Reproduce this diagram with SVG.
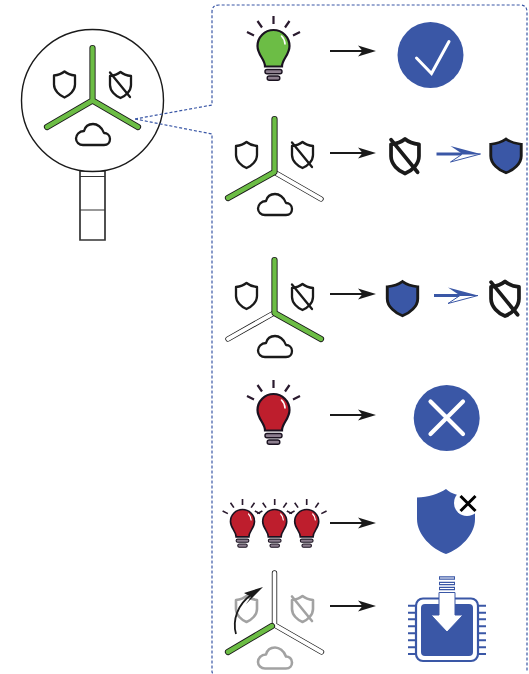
<svg xmlns="http://www.w3.org/2000/svg" width="529" height="674" viewBox="0 0 529 674">
<style>
.k{fill:none;stroke:#1a1a1a;stroke-linejoin:round}
.sh{stroke-width:2.300}
.g{opacity:.4}
.ao{stroke:#1a1a1a;stroke-width:6.200;stroke-linecap:round;stroke-linejoin:round;fill:none}
.ag{stroke:#6cbd45;stroke-width:4.400;stroke-linecap:round;stroke-linejoin:round;fill:none}
.aw{stroke:#fff;stroke-width:3.800;stroke-linecap:round;stroke-linejoin:round;fill:none}
.ab{stroke:#1a1a1a;stroke-width:5.400;stroke-linecap:round;stroke-linejoin:round;fill:none}
.conn{stroke:#1a1a1a;stroke-width:1.800;fill:none}
.dash{stroke:#3a57a6;stroke-width:1.200;stroke-dasharray:3 2;fill:none}
.bl{fill:#3a57a6}
.ray{stroke:#2a1a2e;stroke-width:2.200;fill:none}
</style>
<defs>
<path id="shield" d="M0,0C3,2.500 7,3.600 10.500,4V13C10.500,19 5,24 0,26C-5,24 -10.500,19 -10.500,13V4C-7,3.600 -3,2.500 0,0Z"/>
<g id="shieldx"><path d="M0,0C3,2.500 7,3.600 10.500,4V13C10.500,19 5,24 0,26C-5,24 -10.500,19 -10.500,13V4C-7,3.600 -3,2.500 0,0Z"/><path d="M-10.500,0.500L9.500,25" stroke-linecap="round"/></g>
<path id="cloud" d="M7,21H28C32,21 34,18 34,15C34,11 31,9 28,9C26,3 21,0 17,0C12,0 9,3 8,7C3,7 0,11 0,14.500C0,18 3,21 7,21Z"/>
<g id="bulb">
<path class="ray" d="M0,-30V-22M-16,-25L-11.500,-18.500M-26.500,-14L-19.500,-10.500M16,-25L11.500,-18.500M26.500,-14L19.500,-10.500"/>
<path d="M-8.500,20.500C-8.500,13 -16,9 -16,0A16,16 0 0 1 16,0C16,9 8.500,13 8.500,20.500Z" stroke="#1a1220" stroke-width="2.200"/>
<path d="M8,-10A12,12 0 0 1 11.500,-2" stroke="#fff" stroke-width="1.600" fill="none" stroke-linecap="round"/>
<rect x="-8.500" y="23.500" width="17" height="4.200" rx="2" fill="#8d7f8f" stroke="#1a1220" stroke-width="1.400"/>
<rect x="-6.300" y="30" width="12.600" height="4.200" rx="2" fill="#8d7f8f" stroke="#1a1220" stroke-width="1.400"/>
</g>
<path id="head" d="M0,0L-18,-5.500L-13.500,0L-18,5.500Z" fill="#1a1a1a"/>
<g id="barrow">
<path d="M-44,0H-13" stroke="#3a57a6" stroke-width="3" fill="none"/>
<path d="M0,0L-30,-8L-18,0Z" fill="#3a57a6"/>
<path d="M0,0L-30,8L-18,0Z" fill="#fff" stroke="#3a57a6" stroke-width="1"/>
</g>
</defs>

<g id="node-sensor">
<path d="M80,171H105V240H80Z" fill="#fff" stroke="#333" stroke-width="1.700"/>
<path d="M80,176.500H105M80,210H105" stroke="#333" stroke-width="1.100"/>
<circle cx="92.500" cy="100.500" r="71" fill="#fff" stroke="#1a1a1a" stroke-width="1.400"/>
<path class="ao" d="M92.500,48V100.500M47,127L92.500,100.500L138,127"/>
<path class="ag" d="M92.500,48V100.500M47,127L92.500,100.500L138,127"/>
<use href="#shield" x="64.500" y="71.500" class="k sh"/>
<use href="#shieldx" x="120.500" y="72" class="k sh"/>
<use href="#cloud" x="76" y="124" class="k sh"/>
</g>

<g id="connectors">
<path class="dash" d="M135,119L212,105V12Q212,5 219,5H520Q527,5 527,12V672"/>
<path class="dash" d="M135,119L212,134V672Q212,673 213,673"/>
<path class="conn" d="M330,51H365"/><use href="#head" x="376" y="51"/>
<path class="conn" d="M330,153H365"/><use href="#head" x="376" y="153"/>
<path class="conn" d="M330,294H365"/><use href="#head" x="376" y="294"/>
<path class="conn" d="M330,415H365"/><use href="#head" x="376" y="415"/>
<path class="conn" d="M330,523H365"/><use href="#head" x="376" y="523"/>
<path class="conn" d="M330,606H365"/><use href="#head" x="376" y="606"/>
<use href="#barrow" x="480.500" y="154"/>
<use href="#barrow" x="478" y="295.500"/>
</g>

<g id="node-green-bulb"><use href="#bulb" x="273.500" y="46" fill="#6cbd45"/></g>
<g id="node-check"><circle class="bl" cx="430.500" cy="55" r="33"/><path d="M416.500,58L431.500,73.500L449,41.500" fill="none" stroke="#fff" stroke-width="3" stroke-linecap="round" stroke-linejoin="miter"/></g>

<g id="node-switch-right-off">
<path class="ab" d="M274,172L321,199"/>
<path class="aw" d="M274,172L321,199"/>
<path class="ao" d="M274.500,119V172L228,198"/>
<path class="ag" d="M274.500,119V172L228,198"/>
<use href="#shield" x="246.500" y="142" class="k sh"/>
<use href="#shieldx" x="302.500" y="142" class="k sh"/>
<use href="#cloud" x="258" y="194" class="k sh"/>
</g>
<g id="node-shield-off-1"><use href="#shieldx" transform="translate(405,139) scale(1.33)" class="k" stroke-width="2.800"/></g>
<g id="node-shield-on-1"><use href="#shield" transform="translate(506,139) scale(1.45 1.3)" class="bl" stroke="#1a1a1a" stroke-width="2"/></g>

<g id="node-switch-left-off">
<path class="ab" d="M274,313L228,339"/>
<path class="aw" d="M274,313L228,339"/>
<path class="ao" d="M274.500,260V313L321,339"/>
<path class="ag" d="M274.500,260V313L321,339"/>
<use href="#shield" x="246.500" y="283" class="k sh"/>
<use href="#shieldx" x="302.500" y="284" class="k sh"/>
<use href="#cloud" x="258" y="336" class="k sh"/>
</g>
<g id="node-shield-on-2"><use href="#shield" transform="translate(402.500,281.500) scale(1.45 1.32)" class="bl" stroke="#1a1a1a" stroke-width="2"/></g>
<g id="node-shield-off-2"><use href="#shieldx" transform="translate(505,281.500) scale(1.33)" class="k" stroke-width="2.800"/></g>

<g id="node-red-bulb"><use href="#bulb" x="273.500" y="410" fill="#be1e2d"/></g>
<g id="node-cross"><circle class="bl" cx="446.700" cy="418" r="33"/><path d="M430.500,401.500L463,434M463,401.500L430.500,434" fill="none" stroke="#fff" stroke-width="4.200" stroke-linecap="round"/></g>

<g id="node-three-bulbs">
<use href="#bulb" transform="translate(242.500,521.500) scale(.75)" fill="#be1e2d"/>
<use href="#bulb" transform="translate(274.700,521.500) scale(.75)" fill="#be1e2d"/>
<use href="#bulb" transform="translate(306.700,521.500) scale(.75)" fill="#be1e2d"/>
</g>
<g id="node-shield-alert">
<path class="bl" d="M446,489C451,494 462,497 475,498V519C475,535 460,549 446,554C432,549 417,535 417,519V497.500C428,497 439,494 446,489Z"/>
<circle cx="467" cy="503" r="13" fill="#fff"/>
<path d="M460.500,496L475.500,511M475.500,496L460.500,511" stroke="#000" stroke-width="3" fill="none"/>
</g>

<g id="node-switch-reset">
<path class="ab" d="M274.500,573V625L321.500,652"/>
<path class="aw" d="M274.500,573V625L321.500,652"/>
<path class="ao" d="M272,626L228,652"/>
<path class="ag" d="M272,626L228,652"/>
<g class="g">
<use href="#shield" x="246.500" y="596" class="k" stroke-width="2.600"/>
<use href="#shieldx" x="302.500" y="596" class="k" stroke-width="2.600"/>
<use href="#cloud" x="258" y="647.500" class="k" stroke-width="2.600"/>
</g>
<path d="M236,634C232,620 238,604 251,595" fill="none" stroke="#1a1a1a" stroke-width="1.800"/>
<path d="M263,587L244,593L251,597L246,604Z" fill="#1a1a1a"/>
</g>

<g id="node-chip">
<path d="M408,605.700h8M408,612.700h8M408,619.300h8M408,626.300h8M408,633.300h8M408,640.300h8M408,647.300h8M408,654h8M478,605.700h8M478,612.700h8M478,619.300h8M478,626.300h8M478,633.300h8M478,640.300h8M478,647.300h8M478,654h8" stroke="#3a57a6" stroke-width="2" fill="none"/>
<rect x="416" y="598.500" width="62" height="62.500" rx="7" fill="#fff" stroke="#3a57a6" stroke-width="2.200"/>
<rect x="421" y="604" width="52" height="52" rx="4" class="bl"/>
<path d="M439,592.500V615H431L447,632L463,615H455V592.500Z" fill="#fff" stroke="#3a57a6" stroke-width="1"/>
<path d="M439,578h16M439,583.500h16M439,588.500h16" stroke="#3a57a6" stroke-width="3.600" fill="none"/>
<path d="M440,578h14M440,583.500h14M440,588.500h14" stroke="#fff" stroke-width="1.200" fill="none"/>
</g>
</svg>
